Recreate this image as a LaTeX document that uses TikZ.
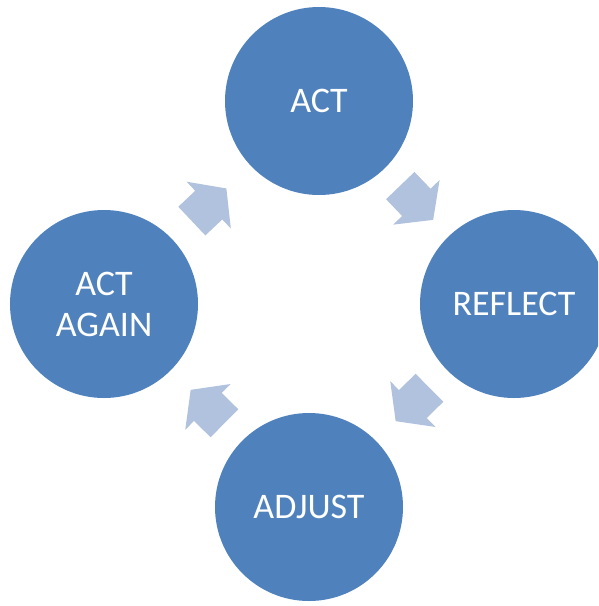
\documentclass[tikz,border=0pt]{standalone}
\usepackage{fontspec}
\setmainfont{Carlito}
\usepackage{tikz}
\usepackage{xcolor}
\usetikzlibrary{calc,shapes.arrows}

\definecolor{stageblue}{HTML}{4F81BD}
\definecolor{arrowblue}{HTML}{B0C2DD}

\begin{document}
\begin{tikzpicture}[x=1pt,y=-1pt]
    \tikzstyle{stage}=[circle, fill=stageblue, minimum size=188pt, inner sep=0pt, text=white, align=center, font=\fontsize{36}{41}\selectfont]
    \tikzstyle{turn}=[single arrow, fill=arrowblue, minimum height=47.5pt, inner sep=0pt, inner ysep=19.5pt, single arrow head extend=12.5pt, single arrow tip angle=106, sloped, allow upside down, anchor=tail, pos=0.246]

    \useasboundingbox (0,0) rectangle (598,606);
    \clip (0,0) rectangle (598,606);

    \node[stage] (act) at (319,101) {ACT}; % Top circle
    \node[stage] (reflect) at (514,304) {REFLECT};
    \node[stage] (adjust) at (309,507) {ADJUST};
    \node[stage] (again) at (104,304) {ACT\\AGAIN};

    % Block arrows half way between the circles
    \path (act) -- node[turn] (turnA) {} (reflect);
    \path (reflect) -- node[turn] (turnB) {} (adjust);
    \path (adjust) -- node[turn] (turnC) {} (again);
    \path (again) -- node[turn] (turnD) {} (act);
\end{tikzpicture}
\end{document}
